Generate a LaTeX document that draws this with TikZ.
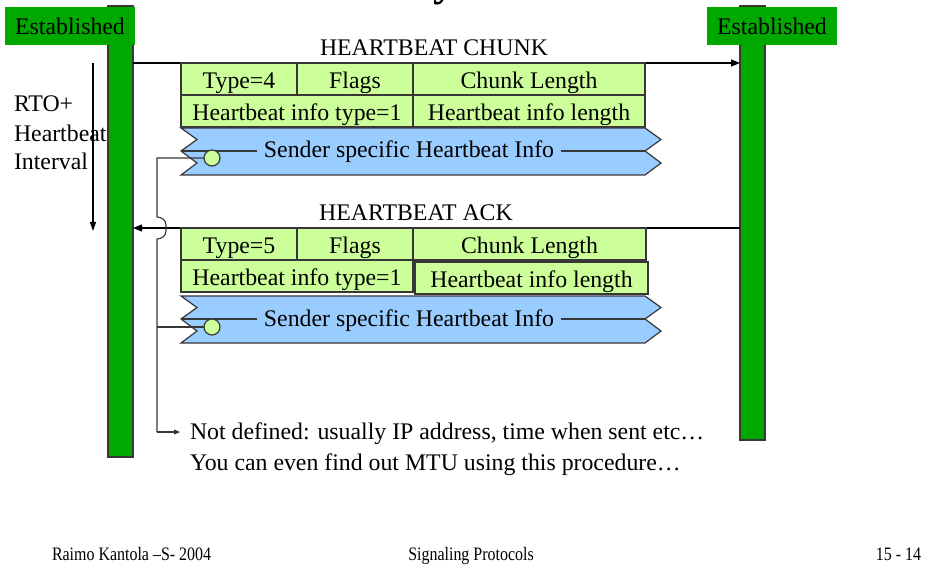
\documentclass[tikz,border=0pt]{standalone}
\usepackage{fontspec}
\setmainfont{Liberation Serif}
\newfontfamily\footfont[FakeStretch=0.84]{Liberation Serif}
\usetikzlibrary{arrows.meta}
\definecolor{barg}{RGB}{0,168,0}
\definecolor{fieldg}{RGB}{204,255,153}
\definecolor{ribb}{RGB}{153,204,255}
\definecolor{edge}{RGB}{55,55,55}
\begin{document}
\begin{tikzpicture}[x=1pt,y=-1pt,
  every node/.style={font=\fontsize{23.8}{28}\selectfont, inner sep=0pt, outer sep=0pt},
  bar/.style={draw=edge, line width=1.3pt, fill=barg},
  estlabel/.style={fill=barg, minimum width=130, minimum height=38, anchor=north west, text height=18, text depth=0},
  field/.style={draw=edge, line width=1.2pt, fill=fieldg, anchor=north west, minimum height=32, text height=18.5, text depth=0},
  ribbon/.style={draw=edge, line width=1.2pt, fill=ribb},
  ribtext/.style={fill=ribb, inner xsep=7pt, anchor=base, text height=17, text depth=0},
  msg/.style={line width=1.1pt, -{Triangle[length=9pt,width=7pt]}},
  conn/.style={line width=1.1pt, draw=edge},
  hole/.style={circle, draw=edge, line width=1.2pt, fill=fieldg, minimum size=16},
  plain/.style={anchor=base west},
  foot/.style={font=\footfont\fontsize{19}{19}\selectfont, anchor=base},
]
\useasboundingbox (0,0) rectangle (933,569);

% clipped title remnant
\node[font=\fontsize{44}{44}\selectfont\bfseries, anchor=base west] (ttl) at (433,-4) {y};

% left annotation
\node[plain] (rto1) at (14,112) {RTO+};
\node[plain] (rto2) at (14,142) {Heartbeat};
\node[plain] (rto3) at (14,170) {Interval};
\coordinate (dtop) at (93,63);
\coordinate (dbot) at (93,231);
\draw[line width=1.1pt, -{Triangle[length=9pt,width=6pt]}] (dtop) -- (dbot);

% lifelines
\node[bar, anchor=north west, minimum width=25, minimum height=451] (lbar) at (108,6) {};
\node[bar, anchor=north west, minimum width=25, minimum height=434] (rbar) at (740,6) {};
\node[estlabel] (lest) at (5,7) {Established};
\node[estlabel] (rest) at (707,7) {Established};

% HEARTBEAT CHUNK
\node[anchor=base] (lchunk) at (434,56) {HEARTBEAT CHUNK};
\coordinate (a1s) at (133,63);
\coordinate (a1e) at (740,63);
\draw[msg] (a1s) -- (a1e);

\node[field, minimum width=116] (t4) at (181,63) {Type=4};
\node[field, minimum width=116] (f4) at (297,63) {Flags};
\node[field, minimum width=232] (cl4) at (413,63) {Chunk Length};
\node[field, minimum width=232] (hit4) at (181,95) {Heartbeat info type=1};
\node[field, minimum width=232] (hil4) at (413,95) {Heartbeat info length};

\draw[ribbon] (181,128) -- (645,128) -- (661,139.5) -- (645,151) -- (661,163) -- (645,175)
  -- (181,175) -- (197,163) -- (181,151) -- (197,139.5) -- cycle;
\draw[conn] (181,151) -- (645,151);
\node[ribtext] (ssi4) at (409,158) {Sender specific Heartbeat Info};

% HEARTBEAT ACK
\node[anchor=base] (lack) at (416,221) {HEARTBEAT ACK};
\coordinate (a2s) at (740,228);
\coordinate (a2e) at (133,228);
\draw[msg] (a2s) -- (a2e);

\node[field, minimum width=116] (t5) at (181,228) {Type=5};
\node[field, minimum width=116] (f5) at (297,228) {Flags};
\node[field, minimum width=233] (cl5) at (413,228) {Chunk Length};
\node[field, minimum width=232] (hit5) at (181,260) {Heartbeat info type=1};
\node[field, minimum width=233] (hil5) at (415,262) {Heartbeat info length};

\draw[ribbon] (181,296) -- (645,296) -- (661,307.5) -- (645,319) -- (661,331) -- (645,343)
  -- (181,343) -- (197,331) -- (181,319) -- (197,307.5) -- cycle;
\draw[conn] (181,319) -- (645,319);
\node[ribtext] (ssi5) at (409,326) {Sender specific Heartbeat Info};

% pointer to explanation
\node[hole] (c1) at (212,158) {};
\node[hole] (c2) at (212,327) {};
\coordinate (k1) at (157,158);
\coordinate (k2) at (157,327);
\coordinate (h1) at (157,217);
\coordinate (h2) at (157,239);
\coordinate (kb) at (157,432);
\coordinate (ke) at (180,432);
\draw[conn] (c1.west) -- (k1) -- (h1) to[out=0,in=90] (166,225) -- (166,231) to[out=-90,in=0] (h2) -- (kb);
\draw[conn, -{Triangle[length=6pt,width=5pt]}] (kb) -- (ke);
\draw[conn] (k2) -- (c2.west);

\node[plain] (nd1) at (190,439) {Not defined: usually IP address, time when sent etc\dots};
\node[plain] (nd2) at (190,470) {You can even find out MTU using this procedure\dots};

% footer
\node[foot, anchor=base west] (fl) at (52,560) {Raimo Kantola –S- 2004};
\node[foot] (fc) at (471,560) {Signaling Protocols};
\node[foot, anchor=base east] (fr) at (921,560) {15 - 14};
\end{tikzpicture}
\end{document}
